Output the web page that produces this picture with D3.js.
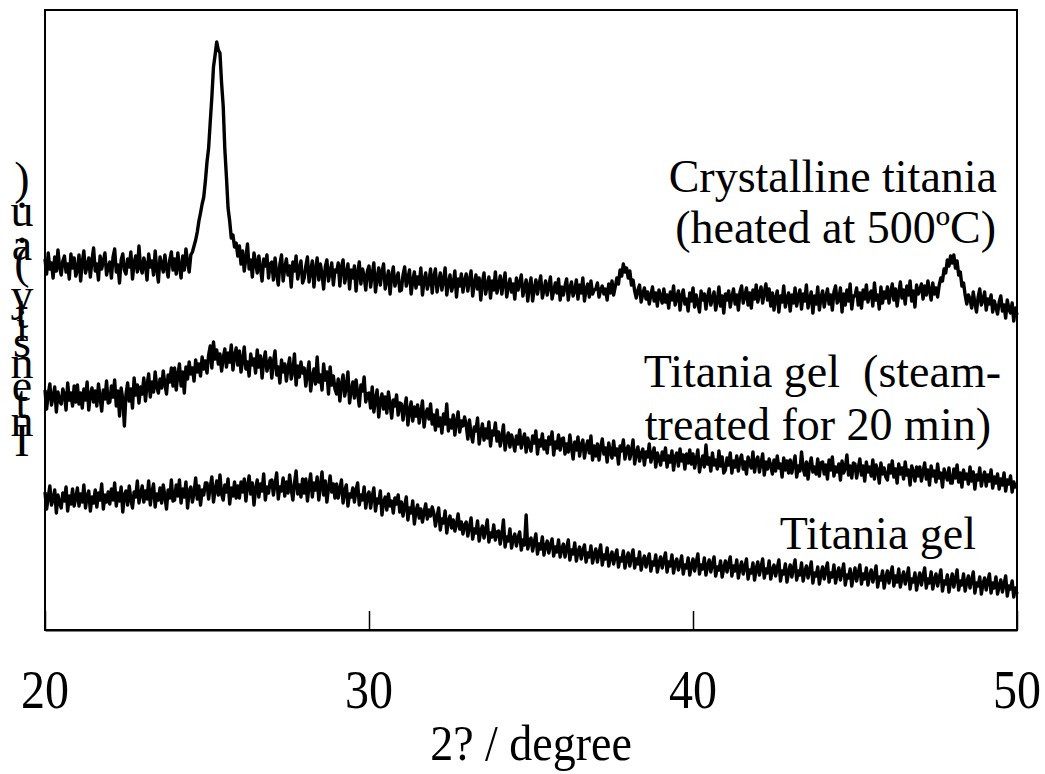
<!DOCTYPE html>
<html><head><meta charset="utf-8">
<script src="https://cdn.jsdelivr.net/npm/d3@7"></script>
<style>body{margin:0;background:#fff} svg{display:block}</style>
</head><body>
<svg id="c" width="1045" height="774"></svg>
<script>
// 2-theta grid, 0.05 degree steps from 20 to 50 (one row = one degree)
const twoTheta = d3.range(601).map(i => +(20 + i * 0.05).toFixed(2));

// Crystalline titania (heated at 500 C)
const crystalline = [
371,356,377,361,367,352,373,359,380,363,355,369,374,358,366,351,376,362,372,354,
360,375,349,368,379,357,364,372,353,370,382,359,366,350,374,361,369,377,355,363,
368,352,373,381,358,365,347,370,376,360,356,371,363,378,351,367,374,358,384,362,
357,372,365,350,376,363,369,355,379,361,348,373,366,358,375,362,353,370,378,360,
371,356,377,363,352,374,360,381,368,358,375,378,384,390,398,409,417,426,433,449,
468,482,508,533,563,575,588,580,577,547,524,481,453,422,409,392,395,383,387,374,
384,366,379,359,372,386,361,370,353,377,368,357,374,362,349,371,364,375,352,366,
368,350,372,357,345,366,375,349,362,371,355,364,343,368,359,374,351,361,369,347,
352,364,373,348,359,369,343,361,372,350,366,356,341,363,370,349,358,367,345,360,
358,367,344,363,370,347,356,366,341,360,352,364,339,357,368,346,361,354,340,359,
364,343,356,367,338,352,362,345,358,366,341,350,359,336,354,363,344,351,357,339,
340,355,363,344,351,360,336,349,358,342,353,346,362,335,350,357,341,348,361,337,
353,361,338,348,357,340,350,362,335,347,355,339,346,359,333,351,344,356,338,349,
356,339,350,359,334,346,355,341,352,330,348,357,336,345,353,332,349,340,358,337,
345,354,336,348,357,333,343,351,338,346,331,352,340,347,355,334,342,350,329,344,
352,329,341,350,336,346,354,332,340,349,335,344,353,331,339,347,337,351,330,343,
335,344,351,330,342,348,334,339,350,331,345,337,352,329,341,346,333,349,336,340,
341,347,333,340,344,336,341,330,346,337,349,335,343,352,346,360,354,366,358,362,
352,359,345,350,339,332,340,345,328,336,342,331,338,326,335,343,329,337,324,340,
333,327,341,328,335,322,338,330,344,325,333,339,320,334,340,326,331,319,337,329,
342,323,335,327,318,339,330,336,321,333,341,325,331,338,320,329,343,324,334,317,
336,330,339,323,333,341,326,335,320,338,344,327,334,342,325,337,322,340,331,345,
328,336,343,327,338,346,330,341,324,337,320,332,339,318,334,328,344,323,331,337,
319,335,327,342,324,333,340,321,336,329,345,322,331,338,317,334,326,343,320,332,
339,323,333,341,326,335,320,338,344,327,330,342,318,336,325,340,329,346,321,334,
334,342,325,337,322,340,331,345,328,336,339,324,347,330,335,321,343,327,338,332,
343,327,338,346,330,341,324,337,348,332,340,326,344,335,349,329,339,323,345,336,
340,346,331,344,335,349,339,330,347,336,342,333,345,352,349,361,357,370,364,374,
367,375,362,369,355,358,344,347,335,326,335,331,322,338,327,318,333,341,325,330,
338,320,331,326,335,318,329,323,316,328,334,319,325,312,330,321,317,327,309,322,
315];

// Titania gel (steam-treated for 20 min)
const steamTreated = [
240,221,236,246,225,233,243,218,238,229,226,241,235,220,247,230,237,224,244,228,
245,226,237,222,241,230,248,220,235,242,228,239,224,246,233,219,240,231,249,227,
228,244,233,250,224,239,214,242,231,204,236,247,229,241,222,252,235,245,227,243,
236,252,229,245,256,233,248,238,258,243,237,251,242,259,246,236,255,248,262,244,
262,240,255,266,244,258,237,263,251,268,256,262,249,270,258,266,254,273,261,269,
257,275,284,262,288,271,280,266,276,259,272,281,263,277,268,285,260,274,282,265,
279,258,270,283,261,268,254,276,265,271,257,280,263,274,252,269,278,259,266,272,
252,268,279,255,263,247,270,258,266,249,262,272,251,259,276,245,264,253,268,257,
262,244,257,268,239,253,261,246,273,248,255,240,266,250,258,236,263,245,254,241,
236,251,229,246,255,234,243,258,227,240,248,232,250,237,224,245,239,253,228,236,
237,222,243,218,231,240,213,229,236,221,233,217,238,226,212,230,224,235,215,227,
226,210,222,232,205,219,228,209,223,214,225,207,218,229,203,216,221,211,226,206,
215,200,220,204,212,197,216,206,226,199,210,202,215,195,208,218,198,209,204,213,
205,191,210,196,188,203,199,212,186,197,206,190,201,192,208,184,199,195,207,189,
198,184,193,205,180,191,197,183,195,188,179,194,186,200,182,190,196,178,192,185,
179,194,187,199,176,190,184,196,181,189,177,193,186,198,175,188,182,195,180,191,
192,176,186,178,195,182,171,188,180,193,174,185,190,172,183,189,177,194,170,184,
174,186,170,183,191,176,182,168,187,178,172,189,175,181,166,184,179,190,171,180,
184,171,179,190,166,177,183,169,176,181,165,178,173,186,168,175,182,163,177,172,
165,178,170,182,163,174,168,179,160,173,177,164,181,169,175,161,176,167,180,166,
176,162,171,180,158,168,174,163,185,166,172,159,177,165,170,161,179,164,173,157,
160,172,165,177,157,169,163,174,159,170,175,161,168,156,173,166,162,178,158,169,
173,158,167,176,155,168,161,171,164,156,170,159,174,162,166,153,172,160,169,157,
170,157,166,174,153,164,159,178,162,155,168,151,165,172,158,163,156,171,154,167,
168,156,165,151,170,160,173,154,163,158,166,150,169,157,162,175,155,164,152,167,
166,152,162,171,155,164,149,168,158,163,154,170,151,165,160,147,167,156,162,153,
150,165,157,169,153,161,147,166,156,162,151,168,155,160,145,164,158,149,163,154,
163,149,158,167,151,160,145,164,154,159,148,166,152,157,143,161,155,150,162,147,
147,161,152,165,148,157,143,160,151,156,146,163,149,158,141,155,150,162,144,153,
158,144,155,149,160,142,153,147,156,141,151,145,157,139,150,146,154,138,148,143,
145];

// Titania gel (as prepared)
const titaniaGel = [
138,121,133,144,125,131,140,117,135,127,122,137,129,143,119,134,126,141,124,132,
142,124,136,128,145,122,134,139,119,133,127,140,123,137,130,146,121,135,128,138,
126,141,130,147,124,137,129,143,118,135,139,125,144,131,122,138,133,149,127,136,
144,128,139,131,149,125,138,146,123,136,130,142,127,145,134,121,140,132,150,129,
130,145,134,150,127,141,133,148,122,139,143,128,137,152,131,144,125,140,135,147,
147,131,143,153,128,140,149,135,155,136,130,145,138,151,126,142,134,148,132,144,
132,148,138,151,129,144,154,136,147,125,141,150,133,146,139,156,130,143,137,149,
150,135,146,157,131,143,139,152,134,148,137,155,141,130,147,159,136,145,133,151,
137,151,129,145,156,133,147,140,153,130,144,158,135,149,128,142,154,138,146,132,
146,132,141,150,127,139,145,124,136,133,142,128,140,147,125,135,130,143,122,134,
138,122,134,142,119,131,127,139,115,128,133,120,136,124,129,117,132,126,135,118,
128,114,124,133,110,122,117,129,106,119,125,112,121,108,118,126,111,120,114,123,
117,104,113,122,100,111,107,119,97,109,114,102,110,99,106,116,101,108,96,105,
108,94,103,112,91,101,97,109,89,99,104,92,100,110,88,97,93,105,90,98,
99,86,95,110,83,93,89,101,82,91,96,84,92,98,80,90,85,115,81,89,
92,79,88,96,76,86,81,93,75,84,89,77,85,91,74,83,78,90,73,81,
86,73,82,90,70,80,76,87,69,78,83,71,79,85,68,77,73,84,67,75,
81,68,77,85,65,75,71,82,64,73,78,66,74,80,63,72,69,79,62,71,
77,64,73,80,62,71,66,78,60,69,74,63,70,76,59,68,65,75,58,67,
73,62,70,77,58,68,64,75,57,67,71,60,66,74,56,65,62,72,55,64,
71,59,68,76,56,65,61,72,55,64,70,58,66,73,54,63,60,69,53,62,
69,58,66,73,54,64,59,70,52,62,68,56,63,71,51,60,57,67,50,61,
68,55,63,71,52,61,57,69,51,60,65,54,62,70,49,59,56,66,48,58,
65,53,62,70,50,59,55,67,49,58,64,52,60,68,47,57,54,63,46,56,
63,51,60,67,48,57,53,65,47,56,62,50,58,66,45,55,52,61,44,54,
62,49,57,65,46,56,51,62,45,54,60,48,55,64,43,53,50,59,42,52,
59,47,56,63,44,54,48,61,43,52,58,46,53,62,41,51,48,57,40,50,
57,45,54,62,42,51,47,58,41,50,56,44,52,60,39,49,46,55,38,48,
56,43,51,60,40,49,45,56,39,48,54,42,50,58,37,47,44,53,36,46,
52,40,49,56,37,47,42,53,36,44,50,38,46,54,34,44,41,49,33,42,
36];

const xTicks = [20, 30, 40, 50];
const xLabel = "2? / degree";
const yLabel = "Intensity (a.u.)";
const annotations = [
  {text: "Crystalline titania", x: 997, y: 192},
  {text: "(heated at 500ºC)", x: 996, y: 243},
  {text: "Titania gel  (steam-", x: 1001, y: 387},
  {text: "treated for 20 min)", x: 991, y: 440},
  {text: "Titania gel", x: 976, y: 549}
];

(function () {
const FONT = "'Liberation Serif','Times New Roman',Times,serif";
const svg = d3.select("#c");
const mL = 45, mR = 1017, mT = 10, mB = 630;

const x = d3.scaleLinear().domain([20, 50]).range([mL, mR]);
const y = d3.scaleLinear().domain([0, 620]).range([mB, mT]);

const line = d3.line().x(d => x(d[0])).y(d => y(d[1]));
[crystalline, steamTreated, titaniaGel].forEach(series => {
  svg.append("path")
    .datum(twoTheta.map((t, i) => [t, series[i]]))
    .attr("d", line)
    .attr("fill", "none")
    .attr("stroke", "#000")
    .attr("stroke-width", 3.4)
    .attr("stroke-linejoin", "round");
});

// frame
svg.append("rect").attr("x", mL).attr("y", mT)
  .attr("width", mR - mL).attr("height", mB - mT)
  .attr("fill", "none").attr("stroke", "#000").attr("stroke-width", 2);

// x axis ticks (inside)
const xAxis = d3.axisBottom(x).tickValues(xTicks).tickSizeInner(-19).tickSizeOuter(0).tickFormat("");
const ga = svg.append("g").attr("transform", `translate(0,${mB})`).call(xAxis);
ga.select(".domain").attr("stroke", "#000").attr("stroke-width", 2);
ga.selectAll(".tick line").attr("stroke", "#000").attr("stroke-width", 1.5);

// tick labels: tall, slightly condensed serif digits as in the original
svg.selectAll("text.tl").data(xTicks).enter().append("text")
  .attr("class", "tl")
  .attr("transform", d => `translate(${x(d)},708) scale(1,1.16)`)
  .attr("text-anchor", "middle").attr("font-family", FONT).attr("font-size", 48)
  .text(d => d);

svg.append("text")
  .attr("transform", `translate(${(mL + mR) / 2},760) scale(1,1.1)`)
  .attr("text-anchor", "middle").attr("font-family", FONT).attr("font-size", 46)
  .text(xLabel);

// annotations
svg.selectAll("text.ann").data(annotations).enter().append("text")
  .attr("class", "ann")
  .attr("x", d => d.x).attr("y", d => d.y)
  .attr("text-anchor", "end").attr("font-family", FONT).attr("font-size", 46)
  .style("white-space", "pre")
  .text(d => d.text);

// y label: rotated line of text drawn with upright glyphs (as in the original)
const yg = svg.append("g").attr("font-family", FONT).attr("font-size", 46);
const chars = Array.from(yLabel);
const tmp = yg.append("text").style("white-space", "pre");
const adv = chars.map(c => { tmp.text(c); const w = tmp.node().getComputedTextLength(); return w > 0 ? w : 11.5; });
tmp.remove();
const centers = [0];
for (let i = 1; i < chars.length; i++) centers.push(centers[i - 1] - (adv[i - 1] + adv[i]) / 2);
const cy = d3.scaleLinear().domain([centers[0], centers[chars.length - 1]]).range([456, 194]);
chars.forEach((c, i) => {
  if (c === " ") return;
  yg.append("text").attr("x", 22).attr("y", cy(centers[i]))
    .attr("text-anchor", "middle").text(c);
});
})();
</script>
</body></html>
